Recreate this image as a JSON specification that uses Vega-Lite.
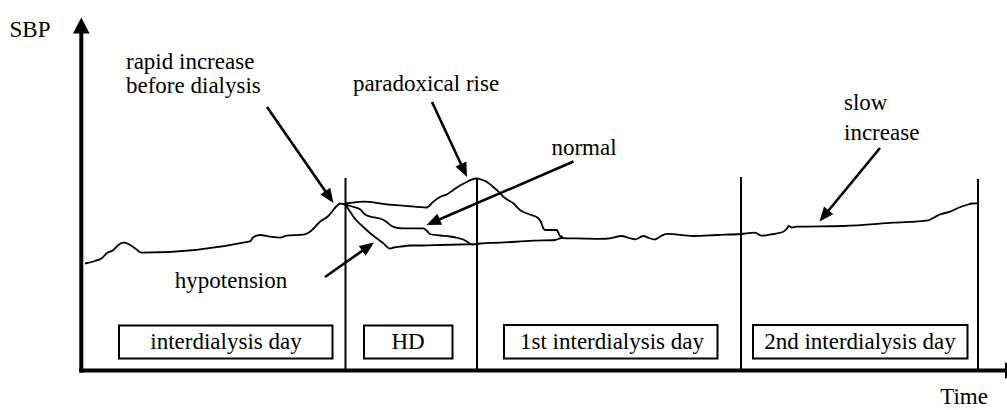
{
  "$schema": "https://vega.github.io/schema/vega-lite/v6.json",
  "width": 1007,
  "height": 410,
  "padding": 0,
  "autosize": {"type": "none"},
  "background": "white",
  "config": {"view": {"stroke": null}, "font": "Liberation Serif, Times New Roman, serif"},
  "datasets": {
    "curves": [
      {"s": "main", "x": 85, "y": 263.5}, {"s": "main", "x": 95, "y": 261}, {"s": "main", "x": 101.7, "y": 258.3},
      {"s": "main", "x": 106.7, "y": 253.3}, {"s": "main", "x": 113.3, "y": 250}, {"s": "main", "x": 118.3, "y": 245},
      {"s": "main", "x": 123.3, "y": 242.7}, {"s": "main", "x": 128.3, "y": 244}, {"s": "main", "x": 135, "y": 248.3},
      {"s": "main", "x": 141.7, "y": 252.7}, {"s": "main", "x": 250, "y": 241.3}, {"s": "main", "x": 253.3, "y": 237.3},
      {"s": "main", "x": 260, "y": 235}, {"s": "main", "x": 270, "y": 236.7}, {"s": "main", "x": 280, "y": 237.7},
      {"s": "main", "x": 286.7, "y": 235.7}, {"s": "main", "x": 303.3, "y": 234.7}, {"s": "main", "x": 310, "y": 231.7},
      {"s": "main", "x": 320, "y": 221.7}, {"s": "main", "x": 328.3, "y": 216}, {"s": "main", "x": 333.3, "y": 210},
      {"s": "main", "x": 336.7, "y": 206}, {"s": "main", "x": 340, "y": 203.5}, {"s": "main", "x": 343, "y": 204},
      {"s": "main", "x": 345, "y": 204.5}, {"s": "main", "x": 349, "y": 210}, {"s": "main", "x": 353.3, "y": 216.5},
      {"s": "main", "x": 358, "y": 222}, {"s": "main", "x": 363.3, "y": 227}, {"s": "main", "x": 370, "y": 233},
      {"s": "main", "x": 376.7, "y": 238.3}, {"s": "main", "x": 383, "y": 243}, {"s": "main", "x": 390, "y": 248.5},
      {"s": "main", "x": 394, "y": 247.5}, {"s": "main", "x": 400, "y": 246.7}, {"s": "main", "x": 410, "y": 245.5},
      {"s": "main", "x": 423.3, "y": 245.5}, {"s": "main", "x": 440, "y": 245}, {"s": "main", "x": 460, "y": 244.5},
      {"s": "main", "x": 473.3, "y": 244.3}, {"s": "main", "x": 480, "y": 243.5}, {"s": "main", "x": 500, "y": 242.7},
      {"s": "main", "x": 533.3, "y": 240.7}, {"s": "main", "x": 555, "y": 240}, {"s": "main", "x": 561.7, "y": 238},
      {"s": "main", "x": 566.7, "y": 238.3}, {"s": "main", "x": 576.7, "y": 238.3}, {"s": "main", "x": 600, "y": 238.8},
      {"s": "main", "x": 610, "y": 238.3}, {"s": "main", "x": 621.7, "y": 236}, {"s": "main", "x": 629, "y": 238},
      {"s": "main", "x": 635, "y": 239.3}, {"s": "main", "x": 643.3, "y": 236}, {"s": "main", "x": 649, "y": 238},
      {"s": "main", "x": 655, "y": 239.5}, {"s": "main", "x": 661, "y": 236}, {"s": "main", "x": 666.7, "y": 233.8},
      {"s": "main", "x": 693.3, "y": 236}, {"s": "main", "x": 716.7, "y": 235}, {"s": "main", "x": 741, "y": 234},
      {"s": "main", "x": 755, "y": 232.7}, {"s": "main", "x": 761.7, "y": 235.7}, {"s": "main", "x": 773.3, "y": 234},
      {"s": "main", "x": 783.3, "y": 231.7}, {"s": "main", "x": 787, "y": 228.5}, {"s": "main", "x": 788.8, "y": 226},
      {"s": "main", "x": 791.7, "y": 227.5}, {"s": "main", "x": 796.7, "y": 226.7}, {"s": "main", "x": 843.3, "y": 226},
      {"s": "main", "x": 893.3, "y": 222.7}, {"s": "main", "x": 928.3, "y": 220.3}, {"s": "main", "x": 934, "y": 217.5},
      {"s": "main", "x": 940, "y": 214.5}, {"s": "main", "x": 950, "y": 211.7}, {"s": "main", "x": 958, "y": 208},
      {"s": "main", "x": 966.7, "y": 205}, {"s": "main", "x": 972, "y": 203.5}, {"s": "main", "x": 977, "y": 203.3},
      {"s": "para", "x": 345, "y": 203.5}, {"s": "para", "x": 355, "y": 202.3}, {"s": "para", "x": 363.3, "y": 201.7},
      {"s": "para", "x": 386.7, "y": 204.3}, {"s": "para", "x": 405, "y": 205.8}, {"s": "para", "x": 426.7, "y": 207.5},
      {"s": "para", "x": 433, "y": 202}, {"s": "para", "x": 440, "y": 197}, {"s": "para", "x": 446.7, "y": 194.5},
      {"s": "para", "x": 453.3, "y": 190}, {"s": "para", "x": 460, "y": 185.5}, {"s": "para", "x": 466.7, "y": 182},
      {"s": "para", "x": 471, "y": 179.8}, {"s": "para", "x": 476.7, "y": 178.5}, {"s": "para", "x": 481, "y": 179.5},
      {"s": "para", "x": 485, "y": 181}, {"s": "para", "x": 489, "y": 183.5}, {"s": "para", "x": 493.3, "y": 187},
      {"s": "para", "x": 500, "y": 193}, {"s": "para", "x": 503.3, "y": 196.7}, {"s": "para", "x": 508, "y": 200},
      {"s": "para", "x": 513.3, "y": 203.3}, {"s": "para", "x": 520, "y": 210}, {"s": "para", "x": 528.3, "y": 214},
      {"s": "para", "x": 538.3, "y": 218.3}, {"s": "para", "x": 541, "y": 222}, {"s": "para", "x": 543.3, "y": 228.3},
      {"s": "para", "x": 545, "y": 230}, {"s": "para", "x": 556.7, "y": 230}, {"s": "para", "x": 558.5, "y": 233},
      {"s": "para", "x": 560, "y": 236}, {"s": "para", "x": 562.7, "y": 236.7},
      {"s": "normal", "x": 345, "y": 204.5}, {"s": "normal", "x": 352, "y": 206.5}, {"s": "normal", "x": 360, "y": 209.3},
      {"s": "normal", "x": 365, "y": 214.5}, {"s": "normal", "x": 372, "y": 217}, {"s": "normal", "x": 380, "y": 218.5},
      {"s": "normal", "x": 386, "y": 221.5}, {"s": "normal", "x": 391.7, "y": 226}, {"s": "normal", "x": 397, "y": 227.8},
      {"s": "normal", "x": 403.3, "y": 228.3}, {"s": "normal", "x": 423.3, "y": 228.3}, {"s": "normal", "x": 427, "y": 231},
      {"s": "normal", "x": 430, "y": 234}, {"s": "normal", "x": 440, "y": 235.5}, {"s": "normal", "x": 450, "y": 236.5},
      {"s": "normal", "x": 458, "y": 238}, {"s": "normal", "x": 463.3, "y": 239.5}, {"s": "normal", "x": 468.3, "y": 242.5},
      {"s": "normal", "x": 471.7, "y": 244.3}, {"s": "normal", "x": 476.7, "y": 244.3}
    ],
    "vlines": [
      {"x": 345.5, "y": 178, "y2": 370},
      {"x": 477, "y": 178, "y2": 370},
      {"x": 741, "y": 177, "y2": 370},
      {"x": 978, "y": 179, "y2": 370}
    ],
    "axes": [
      {"x": 81.3, "y": 372.5, "x2": 81.3, "y2": 17.5},
      {"x": 79.3, "y": 370.5, "x2": 1021, "y2": 370.5}
    ],
    "arrows": [
      {"name": "rapid", "x": 267, "y": 107, "x2": 333.5, "y2": 203},
      {"name": "paradoxical", "x": 432, "y": 102, "x2": 467, "y2": 177},
      {"name": "normal", "x": 573.5, "y": 161.5, "x2": 426.5, "y2": 225},
      {"name": "hypotension", "x": 325, "y": 277, "x2": 374, "y2": 242.5},
      {"name": "slow", "x": 880, "y": 148, "x2": 819.5, "y2": 221.5}
    ],
    "boxes": [
      {"x": 119, "x2": 332.5, "y": 325.5, "y2": 358.5},
      {"x": 364, "x2": 452.5, "y": 325.5, "y2": 358.5},
      {"x": 504, "x2": 717.5, "y": 325, "y2": 358.5},
      {"x": 753, "x2": 967.5, "y": 325, "y2": 358.5}
    ],
    "labels_c": [
      {"label": "SBP", "x": 30, "y": 37},
      {"label": "paradoxical rise", "x": 426, "y": 91},
      {"label": "normal", "x": 584, "y": 155},
      {"label": "hypotension", "x": 231, "y": 288},
      {"label": "Time", "x": 964, "y": 404},
      {"label": "interdialysis day", "x": 226, "y": 349},
      {"label": "HD", "x": 408, "y": 349},
      {"label": "1st interdialysis day", "x": 612, "y": 349},
      {"label": "2nd interdialysis day", "x": 860, "y": 349}
    ],
    "labels_l": [
      {"label": "rapid increase", "x": 126, "y": 69},
      {"label": "before dialysis", "x": 126, "y": 93},
      {"label": "slow", "x": 844, "y": 110},
      {"label": "increase", "x": 844, "y": 140}
    ]
  },
  "layer": [
    {
      "data": {"name": "curves"},
      "mark": {"type": "line", "color": "black", "strokeWidth": 1.8, "interpolate": "monotone"},
      "encoding": {
        "x": {"field": "x", "type": "quantitative", "scale": {"domain": [0, 1007], "nice": false, "zero": false}, "axis": null},
        "y": {"field": "y", "type": "quantitative", "scale": {"domain": [0, 410], "reverse": true, "nice": false, "zero": false}, "axis": null},
        "detail": {"field": "s"}
      }
    },
    {
      "data": {"name": "vlines"},
      "mark": {"type": "rule", "color": "black", "strokeWidth": 2},
      "encoding": {
        "x": {"field": "x", "type": "quantitative", "scale": {"domain": [0, 1007], "nice": false, "zero": false}, "axis": null},
        "y": {"field": "y", "type": "quantitative", "scale": {"domain": [0, 410], "reverse": true, "nice": false, "zero": false}, "axis": null},
        "y2": {"field": "y2"}
      }
    },
    {
      "data": {"name": "axes"},
      "transform": [
        {"calculate": "sqrt(pow(datum.x2 - datum.x, 2) + pow(datum.y2 - datum.y, 2))", "as": "len"},
        {"calculate": "datum.x2 - 10 * (datum.x2 - datum.x) / datum.len", "as": "xb"},
        {"calculate": "datum.y2 - 10 * (datum.y2 - datum.y) / datum.len", "as": "yb"}
      ],
      "mark": {"type": "rule", "color": "black", "strokeWidth": 4},
      "encoding": {
        "x": {"field": "x", "type": "quantitative", "scale": {"domain": [0, 1007], "nice": false, "zero": false}, "axis": null},
        "y": {"field": "y", "type": "quantitative", "scale": {"domain": [0, 410], "reverse": true, "nice": false, "zero": false}, "axis": null},
        "x2": {"field": "xb"},
        "y2": {"field": "yb"}
      }
    },
    {
      "data": {"name": "axes"},
      "transform": [
        {"calculate": "atan2(datum.x2 - datum.x, -(datum.y2 - datum.y)) * 180 / PI", "as": "ang"}
      ],
      "mark": {"type": "point", "shape": "M0,0L-0.52,1L0.52,1Z", "filled": true, "color": "black", "opacity": 1, "size": 1024, "strokeWidth": 0},
      "encoding": {
        "x": {"field": "x2", "type": "quantitative", "scale": {"domain": [0, 1007], "nice": false, "zero": false}, "axis": null},
        "y": {"field": "y2", "type": "quantitative", "scale": {"domain": [0, 410], "reverse": true, "nice": false, "zero": false}, "axis": null},
        "angle": {"field": "ang", "type": "quantitative", "scale": null}
      }
    },
    {
      "data": {"name": "boxes"},
      "mark": {"type": "rect", "fill": "white", "stroke": "black", "strokeWidth": 2},
      "encoding": {
        "x": {"field": "x", "type": "quantitative", "scale": {"domain": [0, 1007], "nice": false, "zero": false}, "axis": null},
        "y": {"field": "y", "type": "quantitative", "scale": {"domain": [0, 410], "reverse": true, "nice": false, "zero": false}, "axis": null},
        "x2": {"field": "x2"},
        "y2": {"field": "y2"}
      }
    },
    {
      "data": {"name": "labels_c"},
      "mark": {"type": "text", "font": "Liberation Serif, Times New Roman, serif", "fontSize": 23, "align": "center", "baseline": "alphabetic", "color": "black"},
      "encoding": {
        "x": {"field": "x", "type": "quantitative", "scale": {"domain": [0, 1007], "nice": false, "zero": false}, "axis": null},
        "y": {"field": "y", "type": "quantitative", "scale": {"domain": [0, 410], "reverse": true, "nice": false, "zero": false}, "axis": null},
        "text": {"field": "label"}
      }
    },
    {
      "data": {"name": "labels_l"},
      "mark": {"type": "text", "font": "Liberation Serif, Times New Roman, serif", "fontSize": 23, "align": "left", "baseline": "alphabetic", "color": "black"},
      "encoding": {
        "x": {"field": "x", "type": "quantitative", "scale": {"domain": [0, 1007], "nice": false, "zero": false}, "axis": null},
        "y": {"field": "y", "type": "quantitative", "scale": {"domain": [0, 410], "reverse": true, "nice": false, "zero": false}, "axis": null},
        "text": {"field": "label"}
      }
    },
    {
      "data": {"name": "arrows"},
      "transform": [
        {"calculate": "sqrt(pow(datum.x2 - datum.x, 2) + pow(datum.y2 - datum.y, 2))", "as": "len"},
        {"calculate": "datum.x2 - 10 * (datum.x2 - datum.x) / datum.len", "as": "xb"},
        {"calculate": "datum.y2 - 10 * (datum.y2 - datum.y) / datum.len", "as": "yb"}
      ],
      "mark": {"type": "rule", "color": "black", "strokeWidth": 2.6},
      "encoding": {
        "x": {"field": "x", "type": "quantitative", "scale": {"domain": [0, 1007], "nice": false, "zero": false}, "axis": null},
        "y": {"field": "y", "type": "quantitative", "scale": {"domain": [0, 410], "reverse": true, "nice": false, "zero": false}, "axis": null},
        "x2": {"field": "xb"},
        "y2": {"field": "yb"}
      }
    },
    {
      "data": {"name": "arrows"},
      "transform": [
        {"calculate": "atan2(datum.x2 - datum.x, -(datum.y2 - datum.y)) * 180 / PI", "as": "ang"}
      ],
      "mark": {"type": "point", "shape": "M0,0L-0.5,1.2L0.5,1.2Z", "filled": true, "color": "black", "opacity": 1, "size": 576, "strokeWidth": 0},
      "encoding": {
        "x": {"field": "x2", "type": "quantitative", "scale": {"domain": [0, 1007], "nice": false, "zero": false}, "axis": null},
        "y": {"field": "y2", "type": "quantitative", "scale": {"domain": [0, 410], "reverse": true, "nice": false, "zero": false}, "axis": null},
        "angle": {"field": "ang", "type": "quantitative", "scale": null}
      }
    }
  ]
}
